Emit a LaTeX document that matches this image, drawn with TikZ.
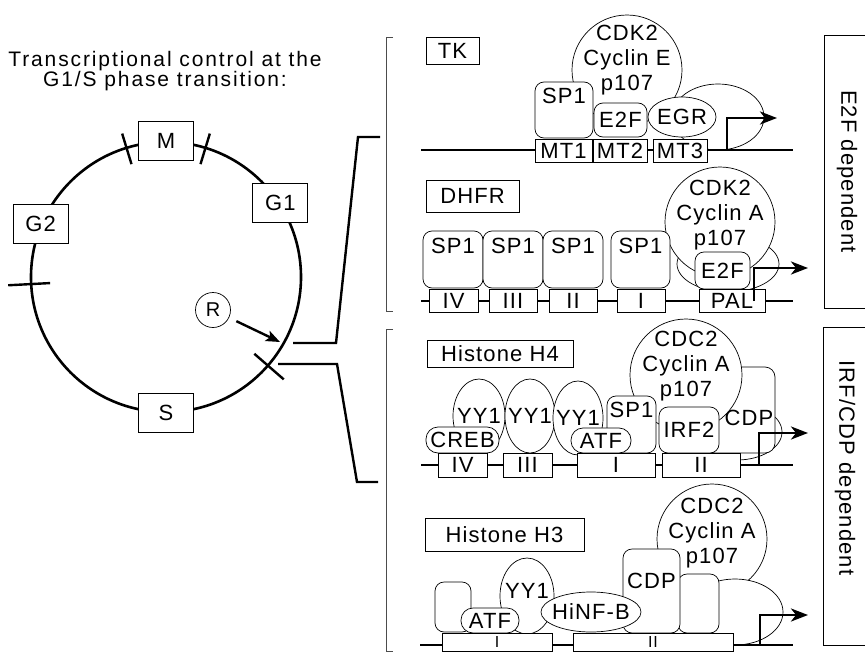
\documentclass[tikz,border=0pt]{standalone}
\usepackage{fontspec}
\newfontfamily\figfont[LetterSpace=5]{Liberation Sans}
\newfontfamily\titlefont[LetterSpace=9]{Liberation Sans}
\usetikzlibrary{arrows.meta, shapes.geometric, calc}

\begin{document}
\begin{tikzpicture}[x=1pt, y=-1pt,
  every node/.style={font=\figfont\fontsize{22}{25}\selectfont},
  phase/.style={rectangle, draw, fill=white, line width=0.8pt, minimum width=55, minimum height=39, inner sep=0pt},
  gene/.style={rectangle, draw, fill=white, line width=0.8pt, inner sep=0pt},
  site/.style={rectangle, draw, fill=white, line width=0.8pt, inner sep=0pt, minimum height=23},
  factor/.style={rectangle, rounded corners=9pt, draw, fill=white, line width=0.7pt, inner sep=0pt},
  pill/.style={rectangle, rounded corners=12pt, draw, fill=white, line width=0.7pt, inner sep=0pt, minimum height=25},
  oval/.style={ellipse, draw, fill=white, line width=0.7pt, inner sep=0pt},
  complex/.style={circle, draw, fill=white, line width=0.7pt, inner sep=0pt},
  captop/.style={anchor=north, align=center, inner sep=0pt},
  sidebox/.style={rectangle, draw, line width=0.8pt, inner sep=0pt},
  dna/.style={line width=2.3pt},
  tss/.style={line width=2.8pt, -{Stealth[length=17pt, width=13pt, inset=5pt]}},
  tick/.style={line width=2.4pt},
  link/.style={line width=2.4pt},
  panel/.style={line width=0.8pt, draw=black!70}
]
\useasboundingbox (0,0) rectangle (865,653);

\node[align=center, font=\titlefont\fontsize{21}{19.5}\selectfont] (title) at (165,71) {Transcriptional control at the\\G1/S phase transition:};

\node[circle, draw, line width=2.6pt, minimum size=270, inner sep=0pt] (cyc) at (166,277) {};
\foreach \a/\ri/\ro in {107/118/150, 73/118/150, 183/116/158, -41/117/156}
  \draw[tick] ($(cyc.center)+(\a:\ri pt)$) -- ($(cyc.center)+(\a:\ro pt)$);
\node[phase] (m) at (cyc.90) {M};
\node[phase] (g1) at (cyc.33) {G1};
\node[phase] (g2) at (cyc.157) {G2};
\node[phase] (s) at (cyc.-90) {S};
\node[circle, draw, line width=0.7pt, minimum size=35, inner sep=0pt, font=\figfont\fontsize{20}{22}\selectfont] (rmark) at (213,310) {R};
\coordinate (rtip) at (280,342);
\draw[line width=2.4pt, shorten <=8pt, -{Stealth[length=14pt, width=11pt, inset=3pt]}] (rmark) -- (rtip);

\coordinate (up1) at (293,343);
\coordinate (up2) at (336,343);
\coordinate (up3) at (358,137);
\coordinate (up4) at (380,137);
\coordinate (lo1) at (278,364);
\coordinate (lo2) at (337,364);
\coordinate (lo3) at (357,482);
\coordinate (lo4) at (378,482);
\draw[link] (up1) -- (up2) -- (up3) -- (up4);
\draw[link] (lo1) -- (lo2) -- (lo3) -- (lo4);
\draw[panel] (393,37) -- (386,37) -- (386,311) -- (393,311);
\draw[panel] (393,329) -- (386,329) -- (386,651) -- (393,651);

\node[sidebox, rotate=-90, minimum width=273, minimum height=45] (e2fbox) at (847,171.5) {E2F dependent};
\node[sidebox, minimum width=45, minimum height=318] (irfbox) at (845.5,486) {};
\node[rotate=-90] (irftext) at (845,468) {IRF/CDP dependent};

\node[gene, minimum width=53, minimum height=27] (tk) at (452.5,50.5) {TK};
\node[oval, minimum width=92, minimum height=66] (tkbg) at (718,117) {};
\node[complex, minimum size=110, label={[captop, yshift=-10pt]north:CDK2\\Cyclin E\\p107}] (tkcdk) at (627,70) {};
\node[factor, minimum width=58, minimum height=56, label={[captop, yshift=-6pt]north:SP1}] (tksp) at (564,110) {};
\node[factor, minimum width=53, minimum height=34] (tke2f) at (620.5,120) {E2F};
\node[oval, minimum width=68, minimum height=40, label=center:EGR] (tkegr) at (682,117) {};
\coordinate (tkL) at (421,150);
\coordinate (tkR) at (793,150);
\draw[dna] (tkL) -- (tkR);
\node[site, minimum width=57] (mt1) at (563.5,150.5) {MT1};
\node[site, minimum width=54] (mt2) at (620,150.5) {MT2};
\node[site, minimum width=54] (mt3) at (680,150.5) {MT3};
\coordinate (tkstart) at (727,150);
\coordinate (tktip) at (777,118);
\draw[tss] (tkstart) |- (tktip);

\node[gene, minimum width=93, minimum height=32] (dhfr) at (472.5,196) {DHFR};
\node[oval, minimum width=102, minimum height=56] (dhbg) at (728,264) {};
\node[complex, minimum size=110, label={[captop, yshift=-13pt]north:CDK2\\Cyclin A\\p107}] (dhcdk) at (720,222) {};
\node[factor, minimum width=60, minimum height=57, label={[captop, yshift=-7pt]north:SP1}] (dhsp4) at (453,259.5) {};
\node[factor, minimum width=60, minimum height=57, label={[captop, yshift=-7pt]north:SP1}] (dhsp3) at (513,259.5) {};
\node[factor, minimum width=60, minimum height=57, label={[captop, yshift=-7pt]north:SP1}] (dhsp2) at (573,259.5) {};
\node[factor, minimum width=59, minimum height=57, label={[captop, yshift=-7pt]north:SP1}] (dhsp1) at (640.5,259.5) {};
\node[factor, minimum width=55, minimum height=37] (dhe2f) at (722.5,270.5) {E2F};
\coordinate (dhL) at (421,301);
\coordinate (dhR) at (793,301);
\draw[dna] (dhL) -- (dhR);
\node[site, minimum width=49] (dhiv) at (453.5,300.5) {IV};
\node[site, minimum width=48] (dhiii) at (513,300.5) {III};
\node[site, minimum width=48] (dhii) at (573,300.5) {II};
\node[site, minimum width=48] (dhi) at (641,300.5) {I};
\node[site, minimum width=66] (pal) at (732,300.5) {PAL};
\coordinate (dhstart) at (754,301);
\coordinate (dhtip) at (808,268);
\draw[tss] (dhstart) |- (dhtip);

\node[gene, minimum width=146, minimum height=27] (h4) at (500,353.5) {Histone H4};
\node[oval, minimum width=90, minimum height=56] (h4bg) at (737,432) {};
\node[factor, minimum width=70, minimum height=86, rounded corners=10pt, label={[xshift=9pt, yshift=-8pt]center:CDP}] (h4cdp) at (740,410) {};
\node[complex, minimum size=112, label={[captop, yshift=-12pt]north:CDC2\\Cyclin A\\p107}] (h4cdc) at (686,375) {};
\node[oval, minimum width=52, minimum height=74, label=center:YY1] (h4yy3) at (479,416) {};
\node[oval, minimum width=50, minimum height=74, label=center:YY1] (h4yy2) at (530,416) {};
\node[oval, minimum width=50, minimum height=74, label=center:YY1] (h4yy1) at (578,418) {};
\node[factor, minimum width=49, minimum height=57, label={[captop, yshift=-6pt]north:SP1}] (h4sp) at (631.5,424.5) {};
\node[pill, minimum width=73, minimum height=26] (creb) at (462.5,440) {CREB};
\node[pill, minimum width=60] (h4atf) at (601,440.5) {ATF};
\node[factor, minimum width=60, minimum height=46] (irf) at (689,430) {IRF2};
\coordinate (h4L) at (421,465);
\coordinate (h4R) at (793,465);
\draw[dna] (h4L) -- (h4R);
\node[site, minimum width=49, minimum height=24] (h4iv) at (462.5,465) {IV};
\node[site, minimum width=49, minimum height=24] (h4iii) at (527.5,465) {III};
\node[site, minimum width=78, minimum height=24] (h4i) at (616,465) {I};
\node[site, minimum width=78, minimum height=24] (h4ii) at (701,465) {II};
\coordinate (h4start) at (759,465);
\coordinate (h4tip) at (808,433);
\draw[tss] (h4start) |- (h4tip);

\node[gene, minimum width=159, minimum height=33] (h3) at (504.5,534.5) {Histone H3};
\node[complex, minimum size=110, label={[captop, yshift=-14pt]north:CDC2\\Cyclin A\\p107}] (h3cdc) at (712,539) {};
\node[oval, minimum width=96, minimum height=66] (h3bg) at (735,612) {};
\node[factor, minimum width=41, minimum height=59] (h3fac) at (698.5,603.5) {};
\node[factor, minimum width=57, minimum height=84, label={[captop, yshift=-24pt]north:CDP}] (h3cdp) at (651.5,591) {};
\node[factor, minimum width=36, minimum height=50] (h3left) at (453,607) {};
\node[oval, minimum width=54, minimum height=76, label={[yshift=5pt]center:YY1}] (h3yy) at (527,596) {};
\node[pill, minimum width=58] (h3atf) at (490,620.5) {ATF};
\node[oval, minimum width=100, minimum height=40, label=center:HiNF-B] (hinf) at (591,612) {};
\coordinate (h3L) at (420,645);
\coordinate (h3R) at (793,645);
\draw[dna] (h3L) -- (h3R);
\node[site, minimum width=110, minimum height=18, font=\figfont\fontsize{16}{18}\selectfont] (h3i) at (497,642) {I};
\node[site, minimum width=160, minimum height=18, font=\figfont\fontsize{16}{18}\selectfont] (h3ii) at (653,642) {II};
\coordinate (h3start) at (760,645);
\coordinate (h3tip) at (808,615);
\draw[tss] (h3start) |- (h3tip);
\end{tikzpicture}
\end{document}
